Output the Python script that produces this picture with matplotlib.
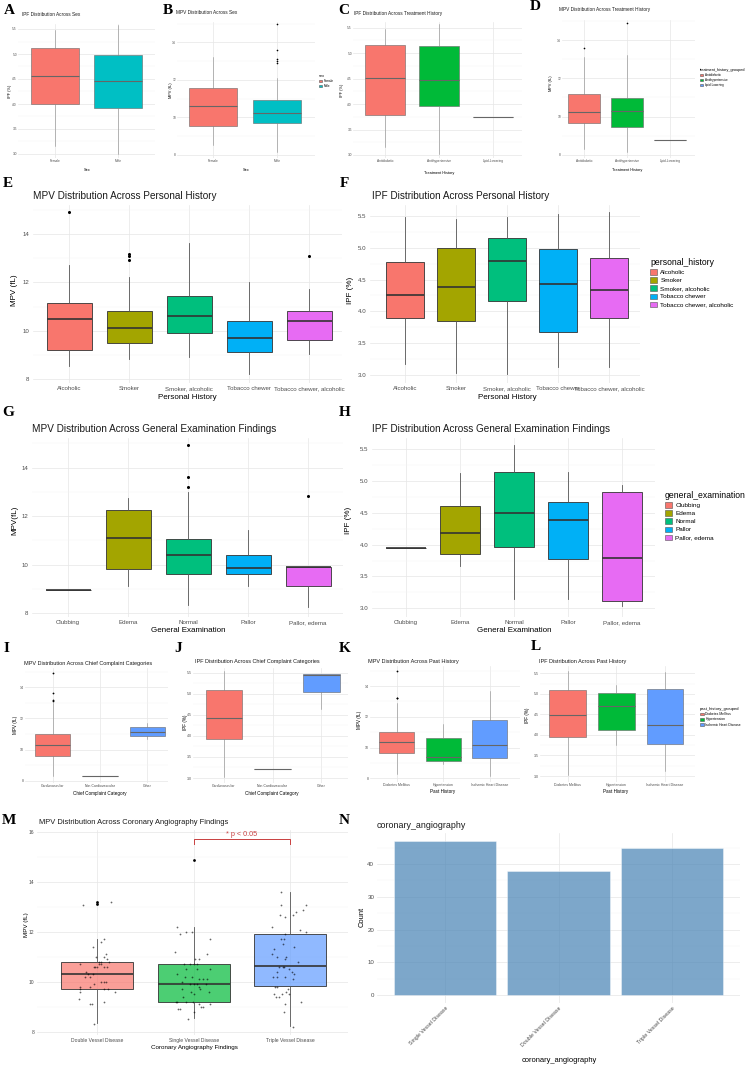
import numpy as np
import matplotlib.pyplot as plt
from matplotlib.patches import Patch
from matplotlib.colors import to_rgba
from matplotlib.ticker import MultipleLocator

W, H = 750, 1083
plt.rcParams['font.family'] = ['Liberation Sans', 'DejaVu Sans']
NARROW = ['Liberation Sans Narrow', 'Liberation Sans', 'DejaVu Sans']

# ggplot hue palettes
PAL2 = ['#F8766D', '#00BFC4']
PAL3 = ['#F8766D', '#00BA38', '#619CFF']
PAL5 = ['#F8766D', '#A3A500', '#00BF7D', '#00B0F6', '#E76BF3']

# ---------------- data (box stats) ----------------
sex = ['Female', 'Male']
A_q1, A_med, A_q3 = [3.99, 3.91], [4.55, 4.45], [5.13, 4.98]
A_lo, A_hi = [3.15, 3.0], [5.48, 5.58]

B_q1, B_med, B_q3 = [9.54, 9.68], [10.6, 10.21], [11.55, 10.92]
B_lo, B_hi = [8.53, 8.17], [13.2, 12.1]
B_out = [[], [14.95, 13.6, 13.1, 13.0, 12.9]]

treat = ['Antidiabetic', 'Antihypertensive', 'Lipid-Lowering']
C_q1, C_med, C_q3 = [3.78, 3.96, 3.74], [4.51, 4.47, 3.74], [5.16, 5.14, 3.74]
C_lo, C_hi = [3.15, 3.01, 3.74], [5.48, 5.58, 3.74]

D_q1, D_med, D_q3 = [9.65, 9.48, 8.78], [10.23, 10.3, 8.78], [11.17, 10.99, 8.78]
D_lo, D_hi = [8.3, 8.17, 8.78], [13.1, 13.2, 8.78]
D_out = [[13.6], [14.9], []]

personal = ['Alcoholic', 'Smoker', 'Smoker, alcoholic', 'Tobacco chewer',
            'Tobacco chewer, alcoholic']
E_q1, E_med, E_q3 = [9.22, 9.49, 9.9, 9.13, 9.61], [10.51, 10.1, 10.62, 9.71, 10.41], [11.17, 10.8, 11.44, 10.4, 10.8]
E_lo, E_hi = [8.55, 8.85, 8.94, 8.2, 9.04], [12.71, 12.21, 13.64, 12.02, 11.72]
E_out = [[14.92], [13.18, 13.09, 12.93], [], [], [13.1]]

F_q1, F_med, F_q3 = [3.89, 3.85, 4.17, 3.68, 3.89], [4.25, 4.38, 4.79, 4.43, 4.34], [4.78, 4.99, 5.15, 4.98, 4.84]
F_lo, F_hi = [3.18, 3.03, 3.01, 3.12, 3.13], [5.49, 5.46, 5.49, 5.53, 5.57]

general = ['Clubbing', 'Edema', 'Normal', 'Pallor', 'Pallor, edema']
G_q1, G_med, G_q3 = [8.95, 9.8, 9.62, 9.59, 9.12], [8.95, 11.1, 10.38, 9.84, 9.92], [8.95, 12.26, 11.05, 10.38, 9.92]
G_lo, G_hi = [8.95, 9.1, 8.35, 9.1, 8.23], [8.95, 12.73, 13.0, 11.42, 9.92]
G_out = [[], [], [14.92, 13.63, 13.21], [], [12.82]]

H_q1, H_med, H_q3 = [3.95, 3.85, 3.96, 3.78, 3.12], [3.95, 4.18, 4.49, 4.38, 3.79], [3.95, 4.6, 5.14, 4.67, 4.82]
H_lo, H_hi = [3.95, 3.66, 3.15, 3.15, 3.03], [3.95, 5.12, 5.56, 5.14, 4.94]

chief = ['Cardiovascular', 'Non-Cardiovascular', 'Other']
I_q1, I_med, I_q3 = [9.61, 8.33, 10.9], [10.28, 8.33, 11.14], [10.99, 8.33, 11.44]
I_lo, I_hi = [8.27, 8.33, 10.7], [12.97, 8.33, 11.69]
I_out = [[14.9, 13.62, 13.19, 13.1], [], []]

J_q1, J_med, J_q3 = [3.92, 3.21, 5.05], [4.42, 3.21, 5.45], [5.09, 3.21, 5.46]
J_lo, J_hi = [3.02, 3.21, 4.65], [5.55, 3.21, 5.47]

past = ['Diabetes Mellitus', 'Hypertension', 'Ischemic Heart Disease']
K_q1, K_med, K_q3 = [9.67, 9.15, 9.32], [10.34, 9.41, 10.15], [10.99, 10.6, 11.79]
K_lo, K_hi = [8.29, 8.94, 8.16], [12.87, 11.53, 13.68]
K_out = [[14.97, 13.25, 13.2], [], []]

L_q1, L_med, L_q3 = [3.94, 4.12, 3.77], [4.49, 4.70, 4.23], [5.09, 5.03, 5.11]
L_lo, L_hi = [3.02, 3.75, 3.11], [5.56, 5.22, 5.52]

angio = ['Double Vessel Disease', 'Single Vessel Disease', 'Triple Vessel Disease']
M_q1, M_med, M_q3 = [9.71, 9.2, 9.82], [10.31, 9.91, 10.62], [10.78, 10.7, 11.91]
M_lo, M_hi = [8.33, 8.53, 8.24], [11.72, 12.2, 13.6]
M_out = [[13.22, 13.12], [14.9], []]
M_double = [13.1, 13.2, 11.6, 11.7, 11.4, 11.1, 11.0, 11.0, 10.9, 10.8, 10.8, 10.8, 10.7, 10.7,
            10.6, 10.6, 10.7, 10.6, 10.6, 10.6, 10.4, 10.3, 10.3, 10.2, 10.2, 10.0, 10.0, 10.0,
            9.9, 9.8, 9.8, 9.7, 9.7, 9.7, 9.6, 9.6, 9.3, 9.1, 9.1, 9.2, 8.3]
M_double_jit = [-0.145, 0.14, 0.04, 0.07, -0.04, 0.09, 0.07, -0.01, 0.10, 0.12, 0.04, 0.02, -0.18,
                0.02, -0.035, 0.0, 0.035, 0.07, -0.02, 0.10, -0.12, -0.10, -0.04, -0.13, -0.08,
                0.04, 0.07, 0.09, -0.03, -0.18, -0.08, -0.18, 0.07, 0.11, 0.18, -0.18, -0.19,
                -0.08, -0.06, 0.07, -0.03]
M_single = [12.2, 11.9, 12.0, 12.0, 11.7, 11.2, 11.1, 10.9, 10.9, 10.7, 10.7, 10.7, 10.7, 10.5,
            10.5, 10.3, 10.5, 10.2, 10.2, 10.1, 10.1, 10.1, 10.0, 9.9, 9.9, 9.9, 9.9, 9.8, 9.7,
            9.6, 9.5, 9.7, 9.6, 9.4, 9.2, 9.2, 9.2, 9.2, 9.1, 9.0, 9.0, 9.1, 8.9, 8.9, 8.8, 8.5]
M_single_jit = [-0.17, -0.14, -0.08, -0.02, 0.17, -0.19, 0.14, 0.01, 0.06, -0.10, -0.04, 0.0,
                0.03, -0.08, 0.03, -0.17, 0.17, -0.09, -0.02, 0.06, 0.10, 0.14, -0.12, 0.0,
                -0.04, 0.03, 0.13, 0.05, -0.12, -0.03, 0.0, 0.07, 0.16, -0.11, -0.18, -0.17,
                -0.08, -0.01, 0.05, 0.08, 0.10, 0.17, -0.16, -0.14, 0.0, -0.06]
M_triple = [13.6, 13.1, 13.1, 12.7, 12.6, 12.7, 12.8, 12.9, 12.2, 12.1, 12.0, 11.9, 11.7, 11.7,
            11.5, 11.4, 11.3, 11.1, 11.0, 11.0, 10.9, 10.8, 10.6, 10.6, 10.6, 10.5, 10.4, 10.4,
            10.3, 10.2, 10.2, 10.2, 10.1, 9.8, 9.8, 9.7, 9.6, 9.5, 9.5, 9.4, 9.4, 9.5, 9.2, 9.1,
            8.8, 8.2]
M_triple_jit = [-0.09, -0.09, 0.17, -0.10, -0.05, 0.03, 0.06, 0.13, -0.19, 0.10, 0.16, -0.05,
                -0.09, -0.06, -0.07, 0.04, -0.17, -0.19, -0.14, -0.04, -0.05, 0.08, -0.12, -0.07,
                -0.06, -0.01, -0.14, 0.02, 0.04, -0.18, -0.14, -0.05, 0.03, -0.16, -0.14, -0.02,
                -0.04, -0.08, -0.17, -0.15, -0.12, -0.01, 0.11, -0.05, -0.06, 0.03]
sig_pair = (1, 2)
sig_y, sig_drop = 15.75, 0.2
sig_text = '* p < 0.05'

N_cats = ['Single Vessel Disease', 'Double Vessel Disease', 'Triple Vessel Disease']
N_count = [47, 38, 45]

# ---------------- helpers ----------------
fig = plt.figure(figsize=(W / 100, H / 100), dpi=100)


def span(p0, p1, ref):
    (pa, va), (pb, vb) = ref
    s = (vb - va) / (pb - pa)
    return va + (p0 - pa) * s, va + (p1 - pa) * s


def panel(box, xref, yref, labels, major, fs, family=None, pad=1.5):
    x0, x1, y0, y1 = box
    fam = family or plt.rcParams['font.family']
    ax = fig.add_axes([x0 / W, 1 - y1 / H, (x1 - x0) / W, (y1 - y0) / H])
    ax.set_xlim(*span(x0, x1, xref))
    ax.set_ylim(*span(y1, y0, yref))
    for sp in ax.spines.values():
        sp.set_visible(False)
    ax.set_xticks(range(len(labels)))
    ax.set_xticklabels(labels, family=fam)
    ax.yaxis.set_major_locator(MultipleLocator(major))
    ax.yaxis.set_minor_locator(MultipleLocator(major / 2))
    ax.tick_params(which='both', length=0, labelsize=fs, colors='#4D4D4D', pad=pad)
    for t in ax.get_yticklabels():
        t.set_family(fam)
    ax.grid(True, which='major', color='#E6E6E6', lw=0.5)
    ax.grid(True, which='minor', axis='y', color='#F3F3F3', lw=0.35)
    ax.set_axisbelow(True)
    return ax


def boxes(ax, q1, med, q3, lo, hi, colors, out=None, alpha=1.0, lw=0.5, ec='#333333',
          wc='#555555', ms=1.8):
    stats = []
    for i in range(len(med)):
        stats.append(dict(q1=q1[i], med=med[i], q3=q3[i], whislo=lo[i], whishi=hi[i],
                          fliers=out[i] if out else []))
    b = ax.bxp(stats, positions=range(len(med)), widths=0.75, patch_artist=True,
               showcaps=False, manage_ticks=False,
               boxprops=dict(lw=lw, edgecolor=ec),
               medianprops=dict(color=ec, lw=lw * 2),
               whiskerprops=dict(color=wc, lw=lw),
               flierprops=dict(marker='o', markersize=ms, markerfacecolor='black',
                               markeredgecolor='none'))
    for p, c in zip(b['boxes'], colors):
        p.set_facecolor(to_rgba(c, alpha))
    return b


def ftext(x, y, s, **kw):
    fig.text(x / W, 1 - y / H, s, **kw)


def title(x, y, s, fs, family=None):
    ftext(x, y, s, fontsize=fs, ha='left', va='center', color='#1A1A1A',
          family=family or plt.rcParams['font.family'])


def axlabels(xl, xpos, yl, ypos, fs, family=None):
    fam = family or plt.rcParams['font.family']
    ftext(xpos[0], xpos[1], xl, fontsize=fs, ha='center', va='center', family=fam)
    ftext(ypos[0], ypos[1], yl, fontsize=fs, ha='center', va='center', rotation=90, family=fam)


def legend(ttl, labels, colors, x, y, fs, tfs, family=None, alpha=1.0):
    fam = family or plt.rcParams['font.family']
    hs = [Patch(facecolor=to_rgba(c, alpha), edgecolor='#555555', lw=0.4) for c in colors]
    lg = fig.legend(hs, labels, title=ttl, loc='upper left',
                    bbox_to_anchor=(x / W, 1 - y / H), frameon=False,
                    prop=dict(size=fs, family=fam), title_fontproperties=dict(size=tfs, family=fam),
                    handlelength=1.1, handleheight=0.9, labelspacing=0.35,
                    handletextpad=0.5, borderpad=0, borderaxespad=0, alignment='left')
    return lg


def letter(x, y, s):
    ftext(x, y, s, fontsize=11, fontweight='bold', family='Liberation Serif',
          ha='center', va='center')


# ---------------- A ----------------
ax = panel((18, 155, 24, 158), ((55, 0), (118, 1)), ((29, 5.5), (154, 3.0)), sex, 0.5, 2.3, NARROW, 0.8)
boxes(ax, A_q1, A_med, A_q3, A_lo, A_hi, PAL2, lw=0.4, ec='#666666', wc='#888888')
letter(9, 10, 'A')
title(22, 14.5, 'IPF Distribution Across Sex', 3.4, NARROW)
axlabels('Sex', (87, 170), 'IPF (%)', (10, 91), 2.8, NARROW)

# ---------------- B ----------------
ax = panel((177, 315, 22, 158), ((213, 0), (277, 1)), ((42.3, 14), (155, 8)), sex, 2, 2.3, NARROW, 0.8)
boxes(ax, B_q1, B_med, B_q3, B_lo, B_hi, PAL2, B_out, lw=0.4, ec='#666666', wc='#888888', ms=1.2)
letter(168, 10, 'B')
title(176, 13, 'MPV Distribution Across Sex', 3.4, NARROW)
axlabels('Sex', (246, 170), 'MPV (fL)', (171, 90), 2.8, NARROW)
legend('sex', sex, PAL2, 319, 74, 2.2, 2.8, NARROW)

# ---------------- C ----------------
ax = panel((353, 522, 22, 158), ((385, 0), (439, 1)), ((27.6, 5.5), (155, 3.0)), treat, 0.5, 2.3, NARROW, 0.8)
boxes(ax, C_q1, C_med, C_q3, C_lo, C_hi, PAL3, lw=0.4, ec='#666666', wc='#888888')
letter(344, 10, 'C')
title(354, 13, 'IPF Distribution Across Treatment History', 3.4, NARROW)
axlabels('Treatment History', (439, 173), 'IPF (%)', (342, 90), 2.8, NARROW)

# ---------------- D ----------------
ax = panel((562, 695, 20, 158), ((584, 0), (627, 1)), ((40, 14), (155, 8)), treat, 2, 2.3, NARROW, 0.8)
boxes(ax, D_q1, D_med, D_q3, D_lo, D_hi, PAL3, D_out, lw=0.4, ec='#666666', wc='#888888', ms=1.2)
letter(535, 7, 'D')
title(559, 10, 'MPV Distribution Across Treatment History', 3.4, NARROW)
axlabels('Treatment History', (627, 170), 'MPV (fL)', (551, 83), 2.8, NARROW)
legend('treatment_history_grouped', treat, PAL3, 700, 68, 2.2, 2.8, NARROW)

# ---------------- E ----------------
ax = panel((33, 342, 205, 383), ((69, 0), (129, 1)), ((234, 14), (379.3, 8)), personal, 2, 4.4, pad=2.5)
boxes(ax, E_q1, E_med, E_q3, E_lo, E_hi, PAL5, E_out, lw=0.6, ms=2.2)
letter(8, 184, 'E')
title(33, 196, 'MPV Distribution Across Personal History', 7.2)
axlabels('Personal History', (187, 397), 'MPV (fL)', (15, 290), 5.8)

# ---------------- F ----------------
ax = panel((370, 640, 205, 383), ((405, 0), (456, 1)), ((216, 5.5), (375, 3.0)), personal, 0.5, 4.4, pad=2.5)
boxes(ax, F_q1, F_med, F_q3, F_lo, F_hi, PAL5, lw=0.6)
letter(344, 184, 'F')
title(372, 196, 'IPF Distribution Across Personal History', 7.2)
axlabels('Personal History', (507, 397), 'IPF (%)', (350, 290), 5.8)
legend('personal_history', personal, PAL5, 650, 258, 4.6, 6.2)

# ---------------- G ----------------
ax = panel((32, 343, 438, 617), ((68, 0), (128, 1)), ((467.7, 14), (613, 8)), general, 2, 4.4, pad=2.5)
boxes(ax, G_q1, G_med, G_q3, G_lo, G_hi, PAL5, G_out, lw=0.6, ms=2.2)
letter(8, 413, 'G')
title(32, 429, 'MPV Distribution Across General Examination Findings', 7.2)
axlabels('General Examination', (188, 630), 'MPV(fL)', (15, 520), 5.8)

# ---------------- H ----------------
ax = panel((372, 655, 438, 617), ((406, 0), (460, 1)), ((449, 5.5), (608.3, 3.0)), general, 0.5, 4.4, pad=2.5)
boxes(ax, H_q1, H_med, H_q3, H_lo, H_hi, PAL5, lw=0.6)
letter(345, 413, 'H')
title(372, 429, 'IPF Distribution Across General Examination Findings', 7.2)
axlabels('General Examination', (514, 630), 'IPF (%)', (349, 520), 5.8)
legend('general_examination', general, PAL5, 665, 491, 4.6, 6.2)

# ---------------- I ----------------
ax = panel((25, 168, 668, 783), ((52.7, 0), (100, 1)), ((687.3, 14), (780.7, 8)), chief, 2, 2.5, NARROW, 1.0)
boxes(ax, I_q1, I_med, I_q3, I_lo, I_hi, PAL3, I_out, lw=0.4, ec='#666666', wc='#888888', ms=1.3)
letter(6, 648, 'I')
title(24, 663, 'MPV Distribution Across Chief Complaint Categories', 4.0, NARROW)
axlabels('Chief Complaint Category', (100, 793), 'MPV (fL)', (15, 725), 3.3, NARROW)

# ---------------- J ----------------
ax = panel((193, 348, 668, 783), ((224, 0), (272.7, 1)), ((672.7, 5.5), (778, 3.0)), chief, 0.5, 2.5, NARROW, 1.0)
boxes(ax, J_q1, J_med, J_q3, J_lo, J_hi, PAL3, lw=0.4, ec='#666666', wc='#888888')
letter(178, 648, 'J')
title(195, 661, 'IPF Distribution Across Chief Complaint Categories', 4.0, NARROW)
axlabels('Chief Complaint Category', (272, 793), 'IPF (%)', (185, 722), 3.3, NARROW)

# ---------------- K ----------------
ax = panel((370, 520, 666, 782), ((396.7, 0), (443.3, 1)), ((686, 14), (778.3, 8)), past, 2, 2.5, NARROW, 1.0)
boxes(ax, K_q1, K_med, K_q3, K_lo, K_hi, PAL3, K_out, lw=0.4, ec='#666666', wc='#888888', ms=1.3)
letter(345, 648, 'K')
title(368, 661, 'MPV Distribution Across Past History', 4.0, NARROW)
axlabels('Past History', (443, 791), 'MPV (fL)', (360, 720), 3.3, NARROW)

# ---------------- L ----------------
ax = panel((540, 695, 666, 782), ((567.7, 0), (616.3, 1)), ((673.3, 5.5), (776, 3.0)), past, 0.5, 2.5, NARROW, 1.0)
boxes(ax, L_q1, L_med, L_q3, L_lo, L_hi, PAL3, lw=0.4, ec='#666666', wc='#888888')
letter(536, 647, 'L')
title(539, 661, 'IPF Distribution Across Past History', 4.0, NARROW)
axlabels('Past History', (616, 791), 'IPF (%)', (528, 715), 3.3, NARROW)
legend('past_history_grouped', past, PAL3, 700, 707, 2.4, 3.0, NARROW)

# ---------------- M ----------------
ax = panel((37, 348, 830, 1035), ((97.3, 0), (193.7, 1)), ((832.3, 16), (1031.7, 8)), angio, 2, 3.6, pad=2.0)
boxes(ax, M_q1, M_med, M_q3, M_lo, M_hi, PAL3, M_out, alpha=0.7, lw=0.6, ms=2.0)
for i, (vals, jit) in enumerate([(M_double, M_double_jit), (M_single, M_single_jit),
                                 (M_triple, M_triple_jit)]):
    ax.scatter(i + np.array(jit), vals, s=1.6, color='black', alpha=0.6, lw=0, zorder=4)
a, b = sig_pair
ax.plot([a, a, b, b], [sig_y - sig_drop, sig_y, sig_y, sig_y - sig_drop], color='#C94040', lw=0.7)
ax.text((a + b) / 2, sig_y + 0.02, sig_text, color='#C94040', fontsize=5.2, ha='center', va='bottom')
letter(9, 820, 'M')
title(39, 823, 'MPV Distribution Across Coronary Angiography Findings', 5.4)
axlabels('Coronary Angiography Findings', (194, 1047), 'MPV (fL)', (27, 925), 4.5)

# ---------------- N ----------------
ax = panel((377, 740, 833, 1003), ((445, 0), (558.5, 1)), ((864, 40), (995, 0)), N_cats, 10, 4.4, pad=2.0)
ax.yaxis.set_minor_locator(MultipleLocator(5))
ax.bar(range(len(N_count)), N_count, width=0.9, color='#4682B4', alpha=0.7,
       edgecolor='white', lw=0.4)
plt.setp(ax.get_xticklabels(), rotation=45, ha='right', va='top', rotation_mode='anchor',
         fontsize=3.8)
letter(344, 820, 'N')
title(377, 825, 'coronary_angiography', 6.4)
axlabels('coronary_angiography', (559, 1061), 'Count', (362, 917), 5.4)

fig.savefig('out.png', dpi=100)
